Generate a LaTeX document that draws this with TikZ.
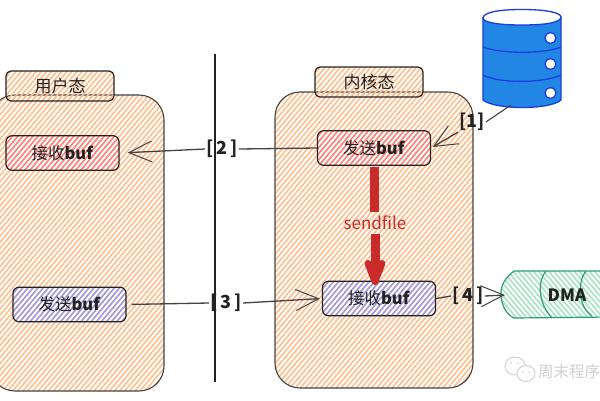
\documentclass[tikz,border=0pt]{standalone}
\usepackage{fontspec}
\setmainfont{Noto Sans CJK SC}
\usetikzlibrary{patterns.meta,arrows.meta}
\definecolor{ink}{HTML}{222222}
\definecolor{peach}{HTML}{FFBE8A}
\definecolor{rosehatch}{HTML}{FF7F7F}
\definecolor{bluehatch}{HTML}{9498EE}
\definecolor{greenhatch}{HTML}{A6E3C0}
\definecolor{greenline}{HTML}{2F9E77}
\definecolor{dbfill}{HTML}{2286E4}
\definecolor{dbline}{HTML}{1C3BE0}
\definecolor{redarrow}{HTML}{C92A2A}
\definecolor{wm}{HTML}{CFCFCF}
\tikzset{
  hatchpeach/.style={pattern={Lines[angle=50,distance=3.9pt,line width=1.6pt]},pattern color=peach},
  hatchrose/.style={pattern={Lines[angle=50,distance=3.9pt,line width=1.4pt]},pattern color=rosehatch},
  hatchblue/.style={pattern={Lines[angle=50,distance=3.9pt,line width=1.4pt]},pattern color=bluehatch},
  bigbox/.style={draw=ink!85,line width=1.1pt,rounded corners=25pt,hatchpeach,inner sep=0pt},
  tagbox/.style={draw=ink,line width=1.2pt,rounded corners=5pt,hatchpeach,inner sep=0pt,minimum width=108pt,minimum height=30pt,font=\fontsize{17}{18}\selectfont,text=ink},
  bufbox/.style={draw=ink,line width=1.2pt,rounded corners=6pt,inner sep=0pt,minimum width=113pt,minimum height=34.5pt,font=\fontsize{16.5}{18}\selectfont,text=ink},
  lab/.style={inner sep=1pt,font=\fontsize{18}{18}\selectfont\bfseries,text=ink},
  conn/.style={draw=ink!85,line width=1.3pt},
  arr/.style={conn,-{Straight Barb[length=23pt 0 0,width=21pt 0 0,line width=1pt]}},
  hot/.style={draw=redarrow,line width=9pt}
}
\begin{document}
\begin{tikzpicture}[x=1pt,y=-1pt]
\useasboundingbox (0,0) rectangle (600,400);
\clip (0,0) rectangle (600,400);
\fill[white] (0,0) rectangle (600,400);
% large panels
\node[bigbox,minimum width=174pt,minimum height=296pt] (userp) at (77,243) {};
\node[bigbox,minimum width=198pt,minimum height=296pt] (kernp) at (374,240) {};
\node[tagbox] (usertag) at (60,86) {用户态};
\node[tagbox] (kerntag) at (369,82) {内核态};
% buffers
\node[bufbox,hatchrose] (urecv) at (62.5,153) {接收\textbf{buf}};
\node[bufbox,hatchblue] (usend) at (69.5,304.5) {发送\textbf{buf}};
\node[bufbox,hatchrose] (ksend) at (374,148) {发送\textbf{buf}};
\node[bufbox,hatchblue] (krecv) at (379,298.5) {接收\textbf{buf}};
% divider
\coordinate (dtop) at (215,54);
\coordinate (dbot) at (215,382);
\draw[draw=ink,line width=1.5pt] (dtop) -- (dbot);
% database
\begin{scope}[line width=1.3pt,draw=dbline]
\path[fill=dbfill,draw=dbline] (483,18) -- (483,100) .. controls (495,110) and (550,110) .. (561,100) -- (561,18) -- cycle;
\path[fill=white,draw=dbline] (522,9.5) .. controls (496,9.5) and (483,13) .. (483,18) .. controls (483,22) and (496,25) .. (522,25) .. controls (548,25) and (561,22) .. (561,17) .. controls (561,13) and (548,9.5) .. (522,9.5) -- cycle;
\draw[dbline] (483,47) .. controls (500,54) and (545,54) .. (561,47);
\draw[dbline] (483,75) .. controls (500,84) and (545,83) .. (561,75);
\path[fill=white,draw=dbline] (550.5,38) circle (5.5);
\path[fill=white,draw=dbline] (550.5,64) circle (5.5);
\path[fill=white,draw=dbline] (550.5,93) circle (5.5);
\end{scope}
\coordinate (dbout) at (511,105);
% DMA cylinder
\path[pattern={Lines[angle=-50,distance=3.9pt,line width=1.6pt]},pattern color=greenhatch] (514,271) .. controls (505,278) and (500,286) .. (501,296) .. controls (502,306) and (506,314) .. (514,318) -- (610,318) -- (610,271) -- cycle;
\draw[greenline,line width=1.2pt] (610,271) -- (514,271) .. controls (505,278) and (500,286) .. (501,296) .. controls (502,306) and (506,314) .. (514,318) -- (610,317);
\draw[greenline,line width=1.2pt] (546,271) .. controls (538,280) and (537,302) .. (552,318);
\draw[greenline,line width=1.2pt] (586,271) .. controls (578,280) and (577,306) .. (592,316);
\node[lab,font=\fontsize{17}{18}\selectfont\bfseries] (dma) at (567,295) {DMA};
\coordinate (dmain) at (505,295);
% labels
\node[lab] (l1) at (472,122) {[1]};
\node[lab] (l2) at (222,149) {[\,2\,]};
\node[lab] (l3) at (226,303) {[\,3\,]};
\node[lab] (l4) at (468,296) {[\,4\,]};
% connectors
\draw[conn,line width=1.1pt] (dbout) -- (l1.east);
\draw[arr,shorten >=2pt] (l1.south west) -- (ksend.east);
\draw[conn] (ksend.west) -- (l2.east);
\draw[arr,shorten >=8pt] (l2.west) -- (urecv.east);
\draw[conn,shorten <=5pt] (usend.east) -- (l3.west);
\draw[arr,shorten >=2pt] (l3.east) -- (krecv.west);
\draw[conn] (krecv.east) -- (l4.west);
\draw[arr] (l4.east) -- (dmain);
% sendfile
\node[inner sep=0pt,text=redarrow,font=\fontsize{17}{18}\selectfont,minimum height=22pt] (sf) at (375,223) {sendfile};
\coordinate (hota) at (374,167);
\coordinate (hotb) at (374,212);
\coordinate (hotc) at (375,234);
\coordinate (hotd) at (375,285);
\draw[hot] (hota) -- (hotb);
\draw[hot,-{Stealth[length=36pt 0 0,width=27pt 0 0,inset=9pt 0 0,round]}] (hotc) -- (hotd);
% watermark
\draw[wm,fill=white,line width=0.9pt] (515,366) ellipse (10 and 9);
\draw[wm,fill=white,line width=0.9pt] (526,373.5) ellipse (9 and 8);
\fill[wm] (511,363) circle (1) (518,363) circle (1) (523,372) circle (0.9) (529,372) circle (0.9);
\node[anchor=west,inner sep=0pt,text=wm,font=\fontsize{15.5}{18}\selectfont] (wmk) at (538,372) {周末程序};
\end{tikzpicture}
\end{document}
